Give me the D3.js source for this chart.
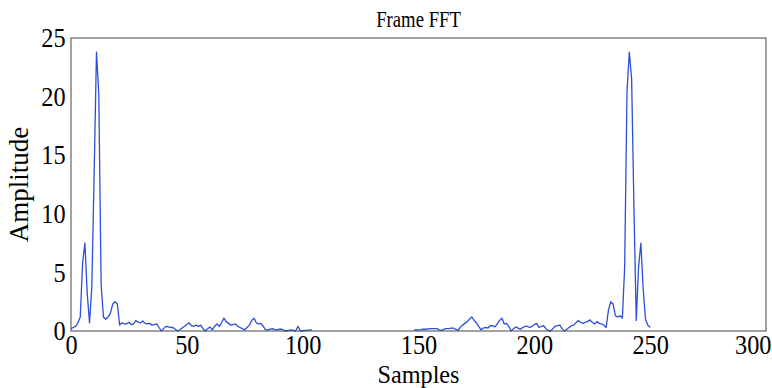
<!doctype html>
<html>
<head>
<script src="https://cdn.jsdelivr.net/npm/d3@7/dist/d3.min.js"></script>
<style>
  body { margin: 0; background: #fff; }
  text { font-family: "Liberation Serif", "Times New Roman", serif; fill: #000; }
</style>
</head>
<body>
<div id="chart"></div>
<script>
// low band: samples 0..104
var lowStart = 0;
var lowAmp = [0.2, 0.3, 0.4, 0.7, 1.2, 5.8, 7.5, 3.2, 0.7, 3.8,
  13.5, 23.8, 20.2, 4.0, 1.2, 1.0, 1.2, 1.5, 2.3, 2.5,
  2.3, 0.5, 0.7, 0.6, 0.6, 0.75, 0.55, 0.6, 0.9, 0.75,
  0.7, 0.85, 0.65, 0.6, 0.65, 0.5, 0.55, 0.6, 0.3, 0.0,
  0.2, 0.4, 0.35, 0.3, 0.3, 0.15, 0.0, 0.1, 0.25, 0.4,
  0.55, 0.7, 0.45, 0.4, 0.5, 0.4, 0.5, 0.2, 0.0, 0.2,
  0.35, 0.1, 0.4, 0.6, 0.4, 0.7, 1.1, 0.8, 0.65, 0.5,
  0.55, 0.6, 0.4, 0.3, 0.2, 0.1, 0.3, 0.5, 0.9, 1.1,
  0.7, 0.6, 0.65, 0.4, 0.1, 0.1, 0.15, 0.2, 0.1, 0.1,
  0.15, 0.15, 0.05, 0.0, 0.05, 0.1, 0.05, 0.0, 0.4, 0.0,
  0.0, 0.05, 0.05, 0.1, 0.1];

// high band: samples 148..250
var highStart = 148;
var highAmp = [0.1, 0.1, 0.1, 0.12, 0.15, 0.15, 0.17, 0.2, 0.2, 0.2,
  0.2, 0.1, 0.05, 0.15, 0.2, 0.2, 0.25, 0.25, 0.15, 0.05,
  0.3, 0.5, 0.65, 0.8, 1.0, 1.2, 0.9, 0.7, 0.4, 0.1,
  0.25, 0.3, 0.25, 0.45, 0.45, 0.35, 0.6, 0.9, 1.1, 0.6,
  0.65, 0.4, 0.0, 0.2, 0.35, 0.25, 0.15, 0.3, 0.4, 0.4,
  0.3, 0.4, 0.55, 0.65, 0.3, 0.4, 0.45, 0.2, 0.05, 0.0,
  0.2, 0.4, 0.45, 0.5, 0.2, 0.0, 0.15, 0.3, 0.45, 0.5,
  0.7, 0.9, 0.75, 0.65, 0.75, 0.8, 0.95, 0.75, 0.6, 0.8,
  0.65, 0.6, 0.5, 0.3, 1.8, 2.5, 2.3, 1.3, 1.2, 1.3,
  1.1, 5.5, 20.4, 23.8, 21.5, 10.5, 0.9, 5.5, 7.5, 3.5,
  1.0, 0.5, 0.3];

var xTicks = [0, 50, 100, 150, 200, 250, 300];
var yTicks = [0, 5, 10, 15, 20, 25];

var W = 772, H = 388;
var margin = {top: 38, right: 6, bottom: 57, left: 71};
var w = W - margin.left - margin.right;
var h = H - margin.top - margin.bottom;

var svg = d3.select("#chart").append("svg")
  .attr("width", W).attr("height", H);
var g = svg.append("g").attr("transform", "translate(" + margin.left + "," + margin.top + ")");

var x = d3.scaleLinear().domain([0, 300]).range([0, w]);
var y = d3.scaleLinear().domain([0, 25]).range([h, 0]);

var line = d3.line()
  .x(function(d) { return x(d[0]); })
  .y(function(d) { return y(d[1]); });

var bands = [
  lowAmp.map(function(v, i) { return [lowStart + i, v]; }),
  highAmp.map(function(v, i) { return [highStart + i, v]; })
];

g.selectAll("path.fft")
  .data(bands)
  .enter().append("path")
  .attr("class", "fft")
  .attr("d", line)
  .attr("fill", "none")
  .attr("stroke", "#2b4fd6")
  .attr("stroke-width", 1.3)
  .attr("stroke-linejoin", "round");

// frame
g.append("rect")
  .attr("width", w).attr("height", h)
  .attr("fill", "none")
  .attr("stroke", "#444")
  .attr("stroke-width", 1);

// the lettering in the original is tall and narrow, so squeeze it a bit
var squeeze = 0.9;

var xAxis = g.append("g")
  .attr("transform", "translate(0," + h + ")")
  .call(d3.axisBottom(x).tickValues(xTicks).tickSize(0).tickPadding(4));
var yAxis = g.append("g")
  .call(d3.axisLeft(y).tickValues(yTicks).tickSize(0).tickPadding(6));
[xAxis, yAxis].forEach(function(a) {
  a.select(".domain").remove();
  a.selectAll("text")
    .attr("font-family", "Liberation Serif").attr("font-size", 27).attr("fill", "#000")
    .attr("transform", "scale(" + squeeze + ",1)");
});
// last x label kept inside the window
xAxis.selectAll(".tick text").filter(function(d) { return d === 300; })
  .attr("text-anchor", "end")
  .attr("x", ((W - 1) - margin.left - x(300)) / squeeze);

svg.append("text")
  .attr("transform", "translate(" + (margin.left + w / 2) + ",27) scale(0.78,1)")
  .attr("text-anchor", "middle").attr("font-size", 24)
  .text("Frame FFT");

svg.append("text")
  .attr("transform", "translate(" + (margin.left + w / 2) + ",383) scale(0.97,1)")
  .attr("text-anchor", "middle").attr("font-size", 25)
  .text("Samples");

svg.append("text")
  .attr("transform", "translate(28," + (margin.top + h / 2) + ") rotate(-90)")
  .attr("text-anchor", "middle").attr("font-size", 27)
  .text("Amplitude");
</script>
</body>
</html>
